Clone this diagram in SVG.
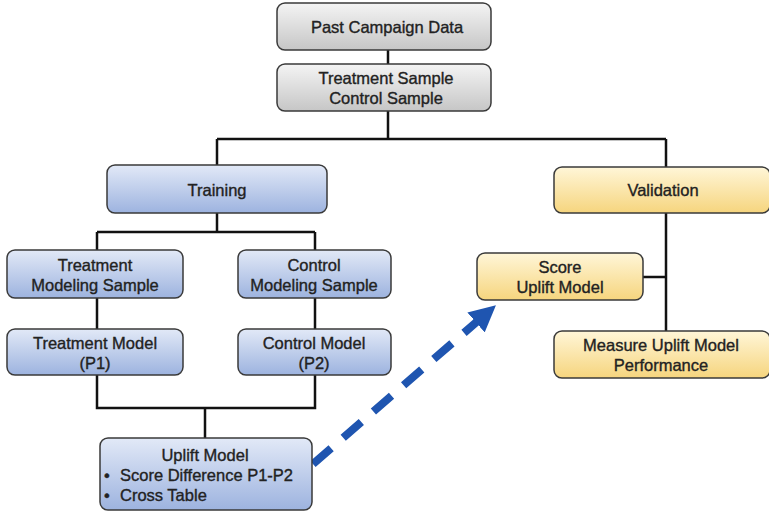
<svg xmlns="http://www.w3.org/2000/svg" width="769" height="512" viewBox="0 0 769 512">
<defs>
<linearGradient id="gGray" x1="0" y1="0" x2="0" y2="1"><stop offset="0" stop-color="#f4f4f4"/><stop offset="1" stop-color="#c6c6c6"/></linearGradient>
<linearGradient id="gBlue" x1="0" y1="0" x2="0" y2="1"><stop offset="0" stop-color="#e2e9f7"/><stop offset="1" stop-color="#9db3df"/></linearGradient>
<linearGradient id="gYel" x1="0" y1="0" x2="0" y2="1"><stop offset="0" stop-color="#fff6d8"/><stop offset="1" stop-color="#f6d57e"/></linearGradient>
<marker id="ah" viewBox="0 0 10 10" refX="2" refY="5" markerWidth="3.3" markerHeight="3.3" orient="auto" markerUnits="strokeWidth"><path d="M0,0 L10,5 L0,10 z" fill="#1f55b0"/></marker>
<style>
.box{stroke:#3a3a3a;stroke-width:1.5}
.gray{fill:url(#gGray)}
.blue{fill:url(#gBlue)}
.yel{fill:url(#gYel)}
.t,.tl{font-family:"Liberation Sans",Arial,sans-serif;font-size:16.5px;fill:#222;stroke:#222;stroke-width:0.35;dominant-baseline:central}
.t{text-anchor:middle}
.c{stroke:#111;stroke-width:2.5;fill:none}
</style>
</defs>
<g id="connectors">
<path class="c" d="M388,50 V64 M388,111 V139 M217,139 H666 M217,139 V165 M666,139 V167 M217,213 V232 M97,232 H315 M97,232 V250 M315,232 V250 M97,298 V329 M315,298 V329 M97,375 V408 H315 V375 M205,408 V438 M666,213 V331 M643,277 H666"/>
<path d="M313,464 L480,319" stroke="#1f55b0" stroke-width="8" fill="none" stroke-dasharray="24,16" marker-end="url(#ah)"/>
</g>
<g id="past-campaign-data"><rect class="box gray" x="277" y="3" width="214" height="47" rx="8"/><text class="t" x="387" y="27">Past Campaign Data</text></g>
<g id="samples"><rect class="box gray" x="277" y="64" width="214" height="47" rx="8"/><text class="t" x="386" y="78">Treatment Sample</text><text class="t" x="386" y="98">Control Sample</text></g>
<g id="training"><rect class="box blue" x="107" y="165" width="220" height="48" rx="8"/><text class="t" x="217" y="190">Training</text></g>
<g id="validation"><rect class="box yel" x="554" y="167" width="216" height="46" rx="8"/><text class="t" x="663" y="190">Validation</text></g>
<g id="treatment-modeling-sample"><rect class="box blue" x="7" y="250" width="176" height="48" rx="8"/><text class="t" x="95" y="265">Treatment</text><text class="t" x="95" y="285">Modeling Sample</text></g>
<g id="control-modeling-sample"><rect class="box blue" x="238" y="250" width="153" height="48" rx="8"/><text class="t" x="314" y="265">Control</text><text class="t" x="314" y="285">Modeling Sample</text></g>
<g id="treatment-model"><rect class="box blue" x="7" y="329" width="176" height="46" rx="8"/><text class="t" x="95" y="343">Treatment Model</text><text class="t" x="95" y="363">(P1)</text></g>
<g id="control-model"><rect class="box blue" x="238" y="329" width="153" height="46" rx="8"/><text class="t" x="314" y="343">Control Model</text><text class="t" x="314" y="363">(P2)</text></g>
<g id="uplift-model"><rect class="box blue" x="100" y="438" width="212" height="72" rx="8"/><text class="t" x="205" y="455">Uplift Model</text><text class="tl" x="104" y="475">•</text><text class="tl" x="120" y="475">Score Difference P1-P2</text><text class="tl" x="104" y="495">•</text><text class="tl" x="120" y="495">Cross Table</text></g>
<g id="score-uplift-model"><rect class="box yel" x="477" y="253" width="166" height="47" rx="8"/><text class="t" x="560" y="267">Score</text><text class="t" x="560" y="287">Uplift Model</text></g>
<g id="measure-performance"><rect class="box yel" x="554" y="331" width="216" height="47" rx="8"/><text class="t" x="661" y="345">Measure Uplift Model</text><text class="t" x="661" y="365">Performance</text></g>
</svg>
